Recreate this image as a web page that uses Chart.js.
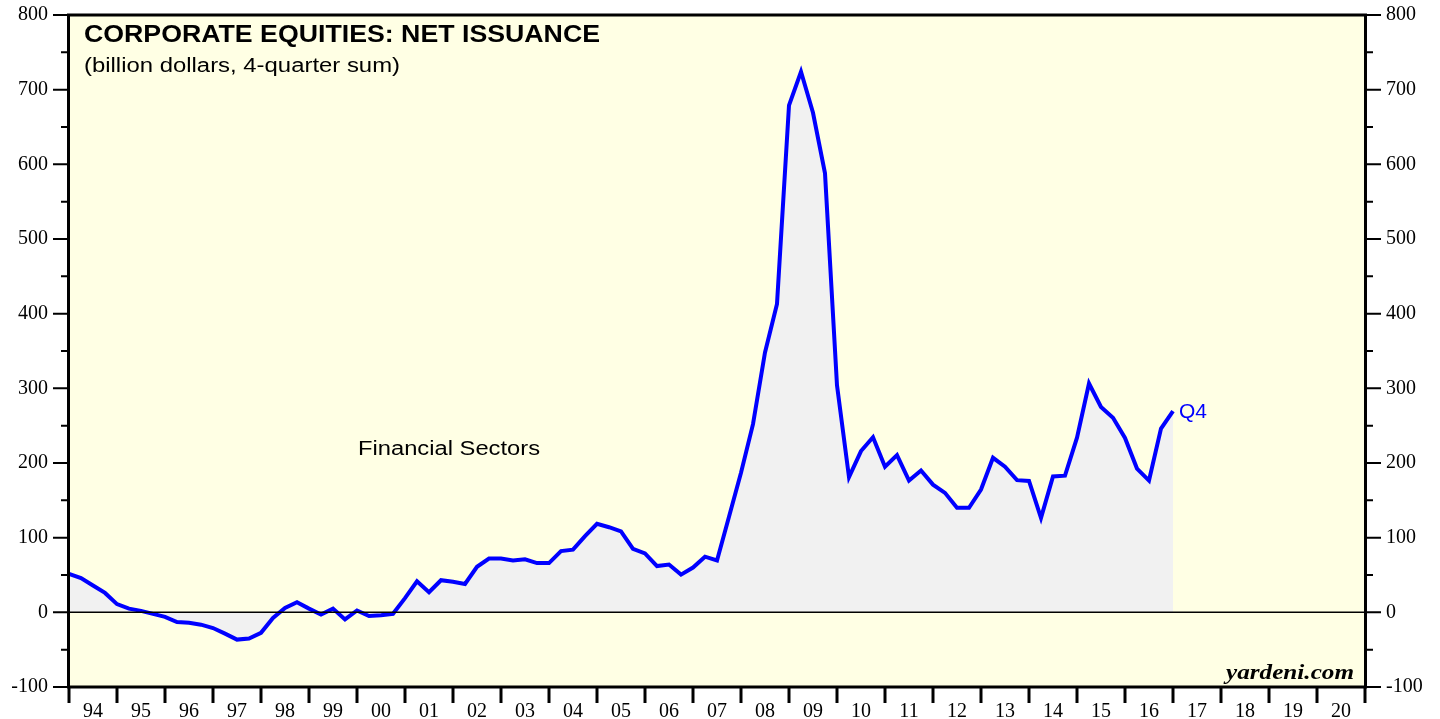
<!DOCTYPE html>
<html>
<head>
<meta charset="utf-8">
<script src="https://cdn.jsdelivr.net/npm/chart.js@4/dist/chart.umd.min.js"></script>
<style>
html,body{margin:0;padding:0;background:#fff;}
#wrap{width:1440px;height:719px;position:relative;}
</style>
</head>
<body>
<div id="wrap"><canvas id="c" width="1440" height="719"></canvas></div>
<script>
// ---- data ----
const startYear = 1993;      // first observation: 1993 Q4
const startQuarter = 4;
const netIssuance = [
  51.5, 46, 36, 26, 11, 5, 2, -2, -6, -13,
  -14, -16.5, -21, -28.5, -36.5, -35, -27.5, -7.5, 6, 13.5,
  5, -3, 5, -9.5, 2.5, -5, -4, -2, 19, 41.5,
  27, 43, 41, 38, 61, 72, 72, 69.5, 71, 66,
  66, 82, 84, 102, 118.5, 114, 108.5, 85, 79, 62,
  64, 50.5, 60, 74.5, 69.5, 128, 187, 252, 348, 413,
  679, 724, 669, 588, 304, 181, 216, 234.5, 195, 210.5,
  176.5, 190, 171, 160, 140, 140, 164.5, 207, 195, 177,
  176, 126.5, 182, 183, 234, 306.5, 275, 260.5, 233.5, 192.5,
  176.5, 246, 269.5
];
const yearLabels = ['94','95','96','97','98','99','00','01','02','03','04','05','06','07','08','09','10','11','12','13','14','15','16','17','18','19','20'];
const yTicks = [-100, 0, 100, 200, 300, 400, 500, 600, 700, 800];
const titleText = 'CORPORATE EQUITIES: NET ISSUANCE';
const subtitleText = '(billion dollars, 4-quarter sum)';
const seriesLabel = 'Financial Sectors';
const lastLabel = 'Q4';
const sourceText = 'yardeni.com';

// quarter-end positions on a year axis
const points = netIssuance.map((v, i) => {
  const q = startQuarter + i;
  return { x: startYear + q / 4, y: v };
});

const PLOT_BG = '#FFFFE4';
const FILL = '#F1F1F1';
const LINE = '#0000FF';

// text drawn with a horizontal stretch to a target width
function stretchText(ctx, text, x, y, font, width, align) {
  ctx.save();
  ctx.font = font;
  const w = ctx.measureText(text).width;
  const s = width / w;
  const x0 = align === 'right' ? x - width : x;
  ctx.translate(x0, y);
  ctx.scale(s, 1);
  ctx.textAlign = 'left';
  ctx.fillText(text, 0, 0);
  ctx.restore();
}

const deco = {
  id: 'deco',
  beforeDraw(chart) {
    const { ctx, chartArea: a } = chart;
    ctx.save();
    ctx.fillStyle = '#fff';
    ctx.fillRect(0, 0, chart.width, chart.height);
    ctx.fillStyle = PLOT_BG;
    ctx.fillRect(a.left, a.top, a.right - a.left, a.bottom - a.top);
    ctx.restore();
  },
  afterDatasetsDraw(chart) {
    const { ctx, chartArea: a, scales } = chart;
    const y0 = scales.y.getPixelForValue(0);
    ctx.save();
    ctx.strokeStyle = '#000';
    ctx.lineWidth = 1.5;
    ctx.beginPath();
    ctx.moveTo(a.left, y0);
    ctx.lineTo(a.right, y0);
    ctx.stroke();
    ctx.restore();
  },
  afterDraw(chart) {
    const { ctx, chartArea: a, scales } = chart;
    ctx.save();
    // y ticks (major at 100, minor at 50)
    ctx.strokeStyle = '#000';
    ctx.lineWidth = 2;
    for (let v = -100; v <= 800; v += 50) {
      const y = scales.y.getPixelForValue(v);
      const len = (v % 100 === 0) ? 16 : 8;
      ctx.beginPath();
      ctx.moveTo(a.left - len, y); ctx.lineTo(a.left, y);
      ctx.moveTo(a.right, y); ctx.lineTo(a.right + len, y);
      ctx.stroke();
    }
    // x ticks at year boundaries
    ctx.lineWidth = 3;
    for (let yr = 1994; yr <= 2021; yr++) {
      const x = scales.x.getPixelForValue(yr);
      ctx.beginPath();
      ctx.moveTo(x, a.bottom); ctx.lineTo(x, a.bottom + 16);
      ctx.stroke();
    }
    // plot border
    ctx.lineWidth = 3;
    ctx.strokeRect(a.left - 0.5, a.top, a.right - a.left + 1, a.bottom - a.top);

    // texts
    ctx.fillStyle = '#000';
    ctx.textBaseline = 'alphabetic';
    stretchText(ctx, titleText, 84, 42, 'bold 23.5px "Liberation Sans", Arial, sans-serif', 516);
    stretchText(ctx, subtitleText, 84, 71.5, '20px "Liberation Sans", Arial, sans-serif', 316);
    stretchText(ctx, seriesLabel, 358, 455, '20px "Liberation Sans", Arial, sans-serif', 182);
    // Q4 label next to last point
    const last = points[points.length - 1];
    const lx = scales.x.getPixelForValue(last.x);
    const ly = scales.y.getPixelForValue(last.y);
    ctx.fillStyle = LINE;
    stretchText(ctx, lastLabel, lx + 6, ly + 7, '19.5px "Liberation Sans", Arial, sans-serif', 28);
    // source
    ctx.fillStyle = '#000';
    stretchText(ctx, sourceText, 1354, 679, 'italic bold 21px "Liberation Serif", "Times New Roman", serif', 128, 'right');
    ctx.restore();
  }
};

const tickFont = { family: '"Liberation Serif", "Times New Roman", serif', size: 20 };

new Chart(document.getElementById('c'), {
  type: 'line',
  data: {
    datasets: [{
      data: points,
      borderColor: LINE,
      borderWidth: 4,
      backgroundColor: FILL,
      fill: 'origin',
      pointRadius: 0,
      tension: 0,
      borderJoinStyle: 'miter'
    }]
  },
  options: {
    responsive: false,
    animation: false,
    events: [],
    layout: { padding: { top: 15, left: 0, right: 0, bottom: 0 } },
    plugins: {
      legend: { display: false },
      tooltip: { enabled: false },
      filler: { drawTime: 'beforeDatasetsDraw' }
    },
    scales: {
      x: {
        type: 'linear',
        min: 1994,
        max: 2021,
        position: 'bottom',
        grid: { display: false, drawTicks: false },
        border: { display: false },
        afterBuildTicks(scale) {
          scale.ticks = yearLabels.map((_, i) => ({ value: 1994.5 + i }));
        },
        afterFit(scale) { scale.height = 32; scale.paddingLeft = 0; scale.paddingRight = 0; },
        ticks: {
          autoSkip: false,
          maxRotation: 0,
          padding: 13,
          color: '#000',
          font: tickFont,
          callback(v, idx) { return yearLabels[idx]; }
        }
      },
      y: {
        type: 'linear',
        position: 'left',
        min: -100,
        max: 800,
        grid: { display: false, drawTicks: false },
        border: { display: false },
        afterBuildTicks(scale) { scale.ticks = yTicks.map(v => ({ value: v })); },
        afterFit(scale) { scale.width = 69; scale.paddingTop = 0; scale.paddingBottom = 0; },
        ticks: { padding: 21, color: '#000', font: tickFont }
      },
      y2: {
        type: 'linear',
        position: 'right',
        min: -100,
        max: 800,
        grid: { display: false, drawTicks: false },
        border: { display: false },
        afterBuildTicks(scale) { scale.ticks = yTicks.map(v => ({ value: v })); },
        afterFit(scale) { scale.width = 75; scale.paddingTop = 0; scale.paddingBottom = 0; },
        ticks: { padding: 21, color: '#000', font: tickFont }
      }
    }
  },
  plugins: [deco]
});
</script>
</body>
</html>
